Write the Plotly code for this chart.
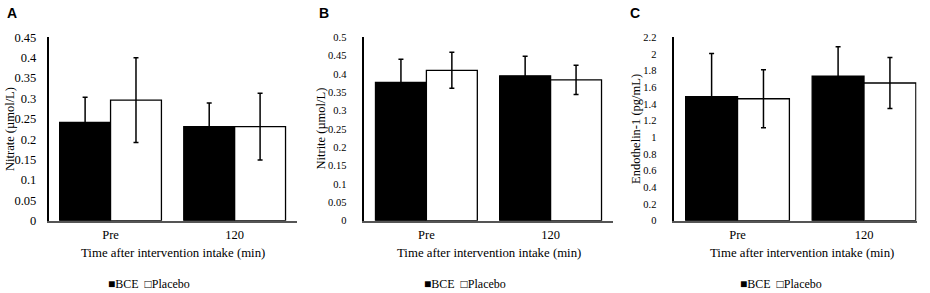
import plotly.graph_objects as go

# ---- data ----
times = ["Pre", "120"]
series_names = ["BCE", "Placebo"]

nitrate_bce = [0.241, 0.231]
nitrate_bce_err = [0.062, 0.058]
nitrate_placebo = [0.296, 0.231]
nitrate_placebo_err = [0.104, 0.082]

nitrite_bce = [0.377, 0.395]
nitrite_bce_err = [0.063, 0.053]
nitrite_placebo = [0.410, 0.384]
nitrite_placebo_err = [0.049, 0.040]

et1_bce = [1.487, 1.735]
et1_bce_err = [0.52, 0.352]
et1_placebo = [1.463, 1.652]
et1_placebo_err = [0.348, 0.306]

nitrate_ticks = [0, 0.05, 0.1, 0.15, 0.2, 0.25, 0.3, 0.35, 0.4, 0.45]
nitrate_ticklabels = ["0", "0.05", "0.1", "0.15", "0.2", "0.25", "0.3", "0.35", "0.4", "0.45"]
nitrite_ticks = [0, 0.05, 0.1, 0.15, 0.2, 0.25, 0.3, 0.35, 0.4, 0.45, 0.5]
nitrite_ticklabels = ["0", "0.05", "0.1", "0.15", "0.2", "0.25", "0.3", "0.35", "0.4", "0.45", "0.5"]
et1_ticks = [0, 0.2, 0.4, 0.6, 0.8, 1.0, 1.2, 1.4, 1.6, 1.8, 2.0, 2.2]
et1_ticklabels = ["0", "0.2", "0.4", "0.6", "0.8", "1", "1.2", "1.4", "1.6", "1.8", "2", "2.2"]

panel_letters = ["A", "B", "C"]
y_titles = ["Nitrate (\u00b5mol/L)", "Nitrite (\u00b5mol/L)", "Endothelin-1 (pg/mL)"]
x_title = "Time after intervention intake (min)"

# ---- layout geometry (pixels) ----
W, H = 930, 293
SERIF = "Liberation Serif, Times New Roman, serif"
SANS = "Liberation Sans, Arial, sans-serif"

panels = [
    dict(bce=nitrate_bce, bce_err=nitrate_bce_err, pl=nitrate_placebo, pl_err=nitrate_placebo_err,
         ticks=nitrate_ticks, labels=nitrate_ticklabels, x0=48.5, x1=296.7, xr=[-0.5, 1.5],
         tfs=12.5, standoff=8, ytitle_x=10, letter_x=5, legend_x=148.5, xtitle_x=172.6),
    dict(bce=nitrite_bce, bce_err=nitrite_bce_err, pl=nitrite_placebo, pl_err=nitrite_placebo_err,
         ticks=nitrite_ticks, labels=nitrite_ticklabels, x0=364.3, x1=612.7, xr=[-0.5, 1.5],
         tfs=10.5, standoff=14, ytitle_x=320.5, letter_x=317, legend_x=464.5, xtitle_x=488.5),
    dict(bce=et1_bce, bce_err=et1_bce_err, pl=et1_placebo, pl_err=et1_placebo_err,
         ticks=et1_ticks, labels=et1_ticklabels, x0=674.3, x1=916.5, xr=[-0.5, 1.415],
         tfs=10.5, standoff=14, ytitle_x=636, letter_x=628, legend_x=781, xtitle_x=801.7),
]
y_top, y_bot = 37.3, 220.7

fig = go.Figure()
annotations = []
layout_axes = {}

for i, p in enumerate(panels):
    sfx = "" if i == 0 else str(i + 1)
    xa, ya = "x" + sfx, "y" + sfx
    fig.add_trace(go.Bar(
        x=times, y=p["bce"], name=series_names[0], xaxis=xa, yaxis=ya,
        marker=dict(color="black", line=dict(color="black", width=1.3)),
        error_y=dict(type="data", array=p["bce_err"], color="black", thickness=1.5, width=2.5),
        showlegend=False))
    fig.add_trace(go.Bar(
        x=times, y=p["pl"], name=series_names[1], xaxis=xa, yaxis=ya,
        marker=dict(color="white", line=dict(color="black", width=1.3)),
        error_y=dict(type="data", array=p["pl_err"], color="black", thickness=1.5, width=2.5),
        showlegend=False))

    layout_axes["xaxis" + sfx] = dict(
        domain=[p["x0"] / W, p["x1"] / W], anchor=ya, type="category", automargin=False,
        range=p["xr"], showline=True, linecolor="#555555", linewidth=1.5,
        ticks="", showgrid=False, zeroline=False, fixedrange=True,
        tickfont=dict(family=SERIF, size=12.5, color="black"), ticklabelstandoff=2)
    layout_axes["yaxis" + sfx] = dict(
        domain=[1 - y_bot / H, 1 - y_top / H], anchor=xa, automargin=False,
        range=[0, p["ticks"][-1]], tickvals=p["ticks"], ticktext=p["labels"],
        showline=True, linecolor="black", linewidth=1.5, ticks="",
        showgrid=False, zeroline=False, fixedrange=True,
        tickfont=dict(family=SERIF, size=p["tfs"], color="black"), ticklabelstandoff=p["standoff"])

    annotations.append(dict(text="<b>" + panel_letters[i] + "</b>", x=p["letter_x"] / W, y=1 - 13.3 / H,
                            xref="paper", yref="paper", xanchor="left", yanchor="middle",
                            showarrow=False, font=dict(family=SANS, size=14, color="black")))
    annotations.append(dict(text=y_titles[i], x=p["ytitle_x"] / W, y=1 - (y_top + y_bot) / 2 / H,
                            xref="paper", yref="paper", xanchor="center", yanchor="middle",
                            textangle=-90, showarrow=False,
                            font=dict(family=SERIF, size=12.5, color="black")))
    annotations.append(dict(text=x_title, x=p["xtitle_x"] / W, y=1 - 253.3 / H,
                            xref="paper", yref="paper", xanchor="center", yanchor="middle",
                            showarrow=False, font=dict(family=SERIF, size=12.8, color="black")))
    annotations.append(dict(text="\u25a0" + series_names[0] + "  \u25a1" + series_names[1],
                            x=p["legend_x"] / W, y=1 - 284 / H,
                            xref="paper", yref="paper", xanchor="center", yanchor="middle",
                            showarrow=False, font=dict(family=SERIF, size=12, color="black")))

fig.update_layout(
    width=W, height=H, margin=dict(l=0, r=0, t=0, b=0, pad=0, autoexpand=False),
    paper_bgcolor="white", plot_bgcolor="white",
    barmode="group", bargap=0.18, bargroupgap=0,
    showlegend=False, annotations=annotations, **layout_axes)

fig.write_html("out.html", config={"displayModeBar": False},
               post_script="document.body.style.margin='0';")
